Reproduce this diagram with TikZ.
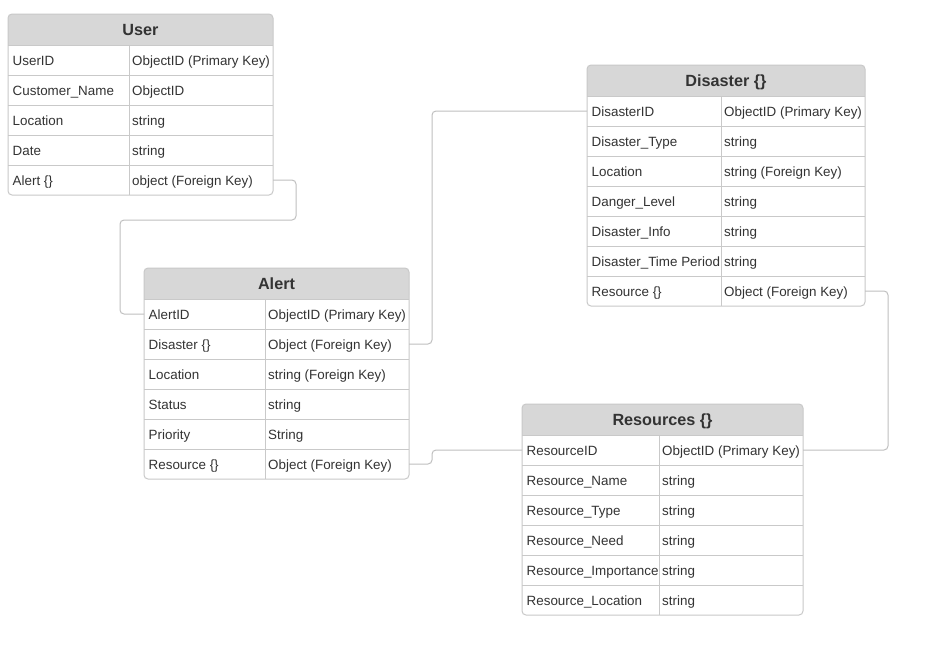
\documentclass[tikz,border=0pt]{standalone}
\usepackage{fontspec}
\setmainfont{Liberation Sans}
\definecolor{hdr}{HTML}{D7D7D7}
\definecolor{gridc}{HTML}{C9C9C9}
\definecolor{txt}{HTML}{333333}
\definecolor{connc}{HTML}{C0C0C0}
\tikzset{
  rowbox/.style={inner sep=0pt, outer sep=0pt, rectangle},
  lbl/.style={font=\fontsize{13.4}{15}\selectfont, text=txt, inner sep=0pt, anchor=base west},
  ttl/.style={font=\fontsize{16.2}{18}\selectfont\bfseries, text=txt, inner sep=0pt, anchor=base},
  gridline/.style={draw=gridc, line width=1pt},
  conn/.style={draw=connc, line width=1pt, rounded corners=4pt},
}
% #1 id, #2 left, #3 top, #4 split, #5 right, #6 title, #7 nrows, #8 rows
\newcommand\ertable[8]{%
  \pgfmathsetmacro\tw{#5-#2}%
  \pgfmathsetmacro\tmid{(#2+#5)/2}%
  \node[rowbox, minimum width=\tw pt, minimum height=31pt, anchor=north west] (#1-h) at (#2,#3) {};
  \fill[hdr, rounded corners=4pt] (#1-h.north west) rectangle (#1-h.south east);
  \fill[hdr] ([yshift=6pt]#1-h.south west) rectangle (#1-h.south east);
  \node[ttl] (#1-t) at (\tmid,#3+21.5) {#6};
  \foreach \l/\r [count=\i] in {#8} {
    \pgfmathsetmacro\yc{#3+31+30*(\i-1)+15}
    \node[rowbox, minimum width=\tw pt, minimum height=30pt] (#1-\i) at (\tmid,\yc) {};
    \node[lbl] (#1-\i-l) at (#2+4.5,\yc+5) {\l};
    \node[lbl] (#1-\i-r) at (#4+3,\yc+5) {\r};
    \draw[gridline] (#1-\i.north west) -- (#1-\i.north east);
  }
  \draw[gridline] (#4,#3+31) -- (#4,#3+31+30*#7);
  \draw[gridline, rounded corners=4pt] (#1-h.north west) rectangle (#1-#7.south east);
}
\begin{document}
\begin{tikzpicture}[x=1pt,y=-1pt]
\useasboundingbox (0,0) rectangle (936,651);
\fill[white] (0,0) rectangle (936,651);

\ertable{u}{8}{14}{129}{273}{User}{5}{UserID/ObjectID (Primary Key), Customer\_Name/ObjectID, Location/string, Date/string, Alert \{\}/object (Foreign Key)}

\ertable{a}{144}{268}{265}{409}{Alert}{6}{AlertID/ObjectID (Primary Key), Disaster \{\}/Object (Foreign Key), Location/string (Foreign Key), Status/string, Priority/String, Resource \{\}/Object (Foreign Key)}

\ertable{d}{587}{65}{721}{865}{Disaster \{\}}{7}{DisasterID/ObjectID (Primary Key), Disaster\_Type/string, Location/string (Foreign Key), Danger\_Level/string, Disaster\_Info/string, Disaster\_Time Period/string, Resource \{\}/Object (Foreign Key)}

\ertable{r}{522}{404}{659}{803}{Resources \{\}}{6}{ResourceID/ObjectID (Primary Key), Resource\_Name/string, Resource\_Type/string, Resource\_Need/string, Resource\_Importance/string, Resource\_Location/string}

\draw[conn] (u-5.east) -- ++(23,0) |- (120,220) |- (a-1.west);
\draw[conn] (a-2.east) -- ++(23,0) |- (d-1.west);
\draw[conn] (a-6.east) -- ++(23,0) |- (r-1.west);
\draw[conn] (d-7.east) -- ++(23,0) |- (r-1.east);
\end{tikzpicture}
\end{document}
